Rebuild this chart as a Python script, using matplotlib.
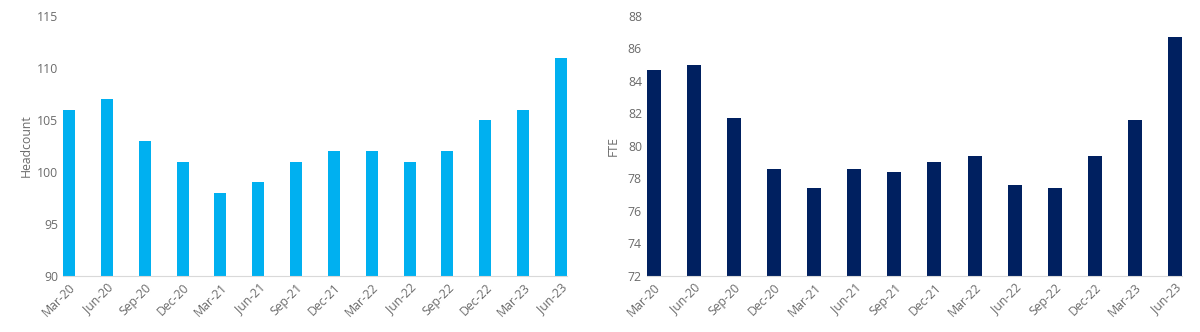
import matplotlib.pyplot as plt
import numpy as np

plt.rcParams['font.family'] = ['Open Sans', 'DejaVu Sans']

quarters = ['Mar-20', 'Jun-20', 'Sep-20', 'Dec-20', 'Mar-21', 'Jun-21', 'Sep-21',
            'Dec-21', 'Mar-22', 'Jun-22', 'Sep-22', 'Dec-22', 'Mar-23', 'Jun-23']
headcount = [106, 107, 103, 101, 98, 99, 101, 102, 102, 101, 102, 105, 106, 111]
fte = [84.7, 85.0, 81.7, 78.6, 77.4, 78.6, 78.4, 79.0, 79.4, 77.6, 77.4, 79.4, 81.6, 86.7]

grey = '#6b6b6b'


def style_axis(ax, label):
    for s in ['top', 'right', 'left']:
        ax.spines[s].set_visible(False)
    ax.spines['bottom'].set_color('#d9d9d9')
    ax.tick_params(axis='both', length=0, labelsize=8.8, labelcolor=grey)
    ax.set_ylabel(label, fontsize=8.8, color=grey)
    for lab in ax.get_xticklabels():
        lab.set_rotation(45)
        lab.set_ha('right')
        lab.set_rotation_mode('anchor')


fig = plt.figure(figsize=(12, 3.32), dpi=100)

ax1 = fig.add_axes([0.0525, 0.169, 0.42, 0.783])
x = np.arange(len(quarters))
ax1.bar(x, headcount, width=0.32, color='#00B0F0')
ax1.set_ylim(90, 115)
ax1.set_yticks(range(90, 116, 5))
ax1.set_xlim(-0.16, 13.16)
ax1.set_xticks(x)
ax1.set_xticklabels(quarters)
style_axis(ax1, 'Headcount')
ax1.yaxis.set_label_coords(-0.06, 0.5)

ax2 = fig.add_axes([0.539, 0.169, 0.446, 0.783])
ax2.bar(x, fte, width=0.35, color='#002060')
ax2.set_ylim(72, 88)
ax2.set_yticks(range(72, 89, 2))
ax2.set_xlim(-0.175, 13.175)
ax2.set_xticks(x)
ax2.set_xticklabels(quarters)
style_axis(ax2, 'FTE')
ax2.yaxis.set_label_coords(-0.05, 0.5)

fig.savefig('out.png', dpi=100)
